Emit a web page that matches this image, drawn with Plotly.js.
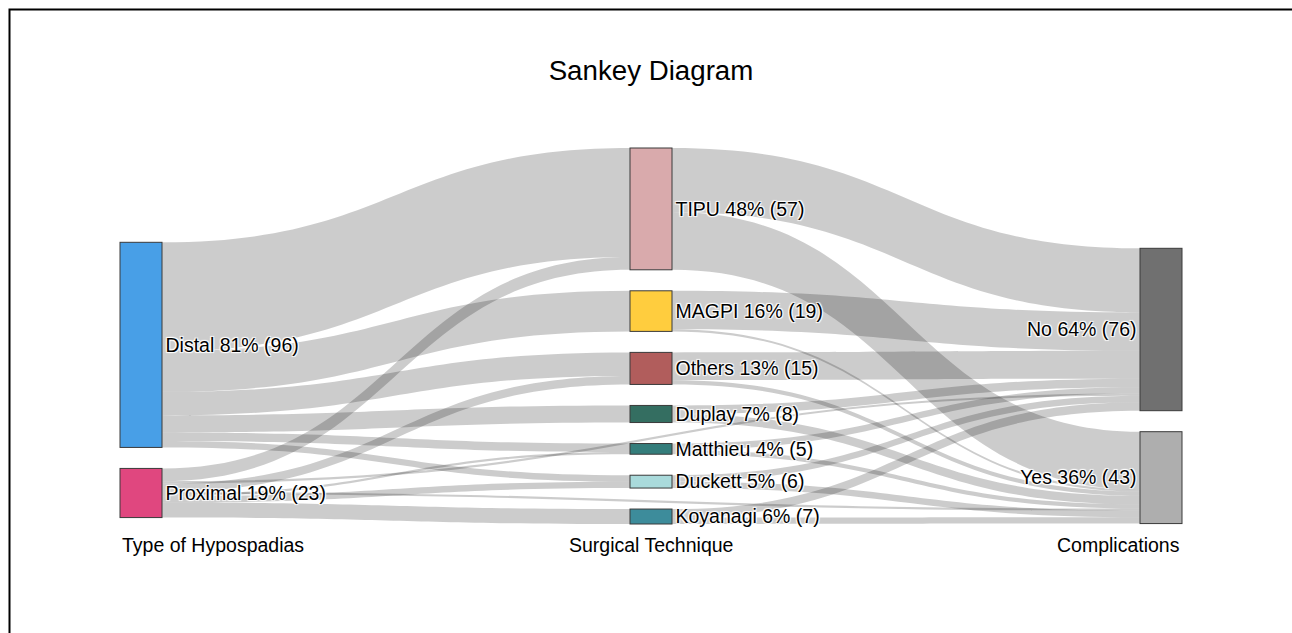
<!DOCTYPE html>
<html>
<head>
<meta charset="utf-8">
<script src="https://cdn.plot.ly/plotly-3.0.1.min.js"></script>
<style>
  html, body { margin: 0; padding: 0; background: #ffffff; overflow: hidden; }
  #chart { width: 1292px; height: 633px; }
</style>
</head>
<body>
<div id="chart"></div>
<script>
// ---- data ----
const nodeNames   = ["Distal", "Proximal", "TIPU", "MAGPI", "Others", "Duplay", "Matthieu", "Duckett", "Koyanagi", "No", "Yes"];
const nodePercent = [81, 19, 48, 16, 13, 7, 4, 5, 6, 64, 36];
const nodeCount   = [96, 23, 57, 19, 15, 8, 5, 6, 7, 76, 43];
const nodeColumn  = [0, 0, 1, 1, 1, 1, 1, 1, 1, 2, 2];

const linkSource = [0, 0, 0, 0, 0, 0,
                    1, 1, 1, 1, 1, 1, 1,
                    2, 2, 3, 3, 4, 4, 5, 5, 6, 6, 7, 7, 8, 8];
const linkTarget = [2, 3, 4, 5, 6, 7,
                    2, 4, 6, 7, 8, 9, 10,
                    9, 10, 9, 10, 9, 10, 9, 10, 9, 10, 9, 10, 9, 10];
const linkValue  = [51, 19, 11, 8, 4, 3,
                    6, 4, 1, 3, 7, 1, 1,
                    30, 27, 18, 1, 13, 2, 4, 4, 3, 2, 3, 3, 4, 3];

const columnTitles = ["Type of Hypospadias", "Surgical Technique", "Complications"];
const chartTitle = "Sankey Diagram";

// ---- style / layout parameters ----
const nodeColors = ["#489FE7", "#E0477F", "#D9AAAC", "#FFCD3E", "#B15D5C", "#346E61",
                    "#347D7B", "#A9DADB", "#3D8C9B", "#707070", "#AEAEAE"];
const FONT = "Liberation Sans, Arial, Helvetica, sans-serif";
const W = 1292, H = 633;
const M = {l: 120, r: 110, t: 148, b: 109};
const domW = W - M.l - M.r, domH = H - M.t - M.b;
const PAD = 21, THICK = 42;
const columnTopPx = [94.3, 0, 100.3];   // top offset of each column inside the sankey area

// node placement: stack each column's nodes using the same scale Plotly uses
const colMembers = [0, 1, 2].map(c => nodeColumn.map((cc, i) => cc === c ? i : -1).filter(i => i >= 0));
const ky = Math.min(...colMembers.map(m => (domH - (m.length - 1) * PAD) / m.reduce((s, i) => s + nodeCount[i], 0)));
const nodeX = [], nodeY = [];
colMembers.forEach((members, c) => {
  let y = columnTopPx[c];
  members.forEach(i => {
    const h = nodeCount[i] * ky;
    nodeY[i] = (y + h / 2) / domH;
    y += h + PAD;
    nodeX[i] = c === 0 ? (THICK / 2) / domW : c === 1 ? 0.5 : (domW - THICK / 2) / domW;
  });
});

const nodeLabels = nodeNames.map((n, i) => `${n} ${nodePercent[i]}% (${nodeCount[i]})`);

const trace = {
  type: "sankey",
  orientation: "h",
  arrangement: "snap",
  domain: {x: [0, 1], y: [0, 1]},
  node: {
    label: nodeLabels,
    color: nodeColors,
    x: nodeX,
    y: nodeY,
    pad: PAD,
    thickness: THICK,
    line: {color: "#3a3a3a", width: 1}
  },
  link: {
    source: linkSource,
    target: linkTarget,
    value: linkValue,
    color: "rgba(0,0,0,0.2)"
  },
  textfont: {family: FONT, size: 19.5, color: "#000000"}
};

const annX = [0, 0.5, 1];
const annAnchor = ["left", "center", "right"];

const layout = {
  width: W,
  height: H,
  margin: {l: M.l, r: M.r, t: M.t, b: M.b, pad: 0},
  paper_bgcolor: "#ffffff",
  font: {family: FONT, size: 19.5, color: "#000000"},
  title: {
    text: chartTitle,
    font: {family: FONT, size: 27.7, color: "#000000"},
    x: 0.5, xref: "paper", xanchor: "center",
    y: 1 - 70 / H, yref: "container", yanchor: "middle"
  },
  annotations: columnTitles.map((t, i) => ({
    text: t, showarrow: false,
    x: annX[i], xref: "paper", xanchor: annAnchor[i],
    y: -0.056, yref: "paper", yanchor: "middle",
    font: {family: FONT, size: 19.5, color: "#000000"}
  })),
  shapes: [{
    type: "rect", xref: "paper", yref: "paper",
    x0: (9.5 - M.l) / domW, x1: 1.3,
    y0: (domH + M.t - 9.5) / domH, y1: -0.5,
    line: {color: "#000000", width: 2},
    fillcolor: "rgba(0,0,0,0)"
  }]
};

Plotly.newPlot("chart", [trace], layout, {displayModeBar: false, staticPlot: true});
</script>
</body>
</html>
